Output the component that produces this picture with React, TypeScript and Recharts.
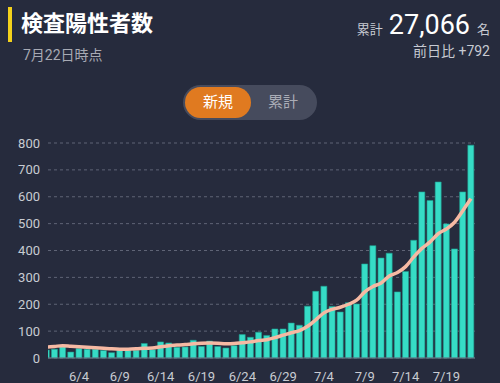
import React from 'react';
import {
  ComposedChart,
  Bar,
  Line,
  XAxis,
  YAxis,
  CartesianGrid
} from 'recharts';

const dates = [
  '5/31',
  '6/1', '6/2', '6/3', '6/4', '6/5', '6/6', '6/7', '6/8', '6/9', '6/10',
  '6/11', '6/12', '6/13', '6/14', '6/15', '6/16', '6/17', '6/18', '6/19', '6/20',
  '6/21', '6/22', '6/23', '6/24', '6/25', '6/26', '6/27', '6/28', '6/29', '6/30',
  '7/1', '7/2', '7/3', '7/4', '7/5', '7/6', '7/7', '7/8', '7/9', '7/10',
  '7/11', '7/12', '7/13', '7/14', '7/15', '7/16', '7/17', '7/18', '7/19', '7/20',
  '7/21', '7/22'
];

const newCases = [
  30,
  33, 42, 22, 35, 33, 33, 28, 20, 29, 28,
  29, 54, 31, 60, 56, 40, 41, 66, 43, 63,
  43, 37, 46, 87, 77, 96, 84, 108, 108, 130,
  122, 193, 248, 267, 192, 171, 206, 201, 350, 418,
  372, 390, 246, 322, 438, 618, 586, 655, 499, 406,
  618, 792
];

const weeklyAverage = [
  40,
  43, 46, 44, 42, 40, 38, 36, 34, 33, 33,
  34, 36, 37, 42, 46, 48, 50, 53, 55, 56,
  55, 53, 54, 57, 60, 65, 68, 76, 85, 94,
  102, 118, 142, 168, 181, 189, 200, 215, 246, 266,
  279, 305, 318, 340, 376, 408, 432, 463, 480, 505,
  548, 593
];

const tickDates = ['6/4', '6/9', '6/14', '6/19', '6/24', '6/29', '7/4', '7/9', '7/14', '7/19'];
const yTicks = [0, 100, 200, 300, 400, 500, 600, 700, 800];

const data = dates.map((d, i) => ({ idx: i, date: d, count: newCases[i], avg: weeklyAverage[i] }));
const xTicks = tickDates.map((d) => dates.indexOf(d));

const BG = '#262b3d';
const FONT = "Roboto, 'Noto Sans CJK JP', sans-serif";

export default function App() {
  return (
    <div
      style={{
        position: 'fixed',
        left: 0,
        top: 0,
        width: 500,
        height: 383,
        background: BG,
        fontFamily: FONT,
        overflow: 'hidden'
      }}
    >
      <div style={{ position: 'absolute', left: 8, top: 7, width: 4, height: 35, background: '#f3d11c' }} />
      <div
        style={{
          position: 'absolute',
          left: 21,
          top: 13,
          fontSize: 22,
          lineHeight: '22px',
          fontWeight: 700,
          color: '#ffffff'
        }}
      >
        検査陽性者数
      </div>
      <div style={{ position: 'absolute', left: 23, top: 48, fontSize: 14, lineHeight: '14px', color: '#a7aab4' }}>
        7月22日時点
      </div>

      <div
        style={{
          position: 'absolute',
          right: 10,
          top: 12,
          display: 'flex',
          alignItems: 'baseline',
          color: '#ffffff'
        }}
      >
        <span style={{ fontSize: 13, color: '#c7cad2', marginRight: 6 }}>累計</span>
        <span style={{ fontSize: 27, lineHeight: '27px' }}>27,066</span>
        <span style={{ fontSize: 13, color: '#c7cad2', marginLeft: 7 }}>名</span>
      </div>
      <div
        style={{
          position: 'absolute',
          right: 10,
          top: 44,
          fontSize: 14,
          lineHeight: '14px',
          color: '#c7cad2'
        }}
      >
        前日比 +792
      </div>

      <div
        style={{
          position: 'absolute',
          left: 183,
          top: 85,
          width: 134,
          height: 35,
          borderRadius: 18,
          background: '#464b5d'
        }}
      >
        <div
          style={{
            position: 'absolute',
            left: 2,
            top: 2,
            width: 66,
            height: 31,
            borderRadius: 16,
            background: '#e07a20',
            color: '#ffffff',
            fontSize: 15,
            lineHeight: '31px',
            textAlign: 'center'
          }}
        >
          新規
        </div>
        <div
          style={{
            position: 'absolute',
            left: 68,
            top: 2,
            width: 64,
            height: 31,
            color: '#a9acb6',
            fontSize: 15,
            lineHeight: '31px',
            textAlign: 'center'
          }}
        >
          累計
        </div>
      </div>

      <div style={{ position: 'absolute', left: 0, top: 0 }}>
        <ComposedChart
          width={500}
          height={383}
          data={data}
          margin={{ top: 143, right: 25, bottom: 0, left: 8 }}
        >
          <CartesianGrid vertical={false} stroke="#5f6476" strokeDasharray="3 3" />
          <XAxis
            dataKey="idx"
            type="number"
            domain={[0.2, 52.5]}
            allowDataOverflow
            ticks={xTicks}
            tickFormatter={(v: number) => dates[v]}
            interval={0}
            height={25}
            tickLine={false}
            tickMargin={8}
            axisLine={{ stroke: '#6d7283' }}
            tick={{ fill: '#c8cbd2', fontSize: 13, fontFamily: FONT }}
          />
          <YAxis
            domain={[0, 800]}
            ticks={yTicks}
            width={40}
            axisLine={false}
            tickLine={false}
            tick={{ fill: '#c8cbd2', fontSize: 13, fontFamily: FONT }}
          />
          <Bar
            dataKey="count"
            barSize={6}
            fill="#36dcc6"
            stroke="#1e9e8e"
            strokeWidth={0.6}
            isAnimationActive={false}
          />
          <Line
            dataKey="avg"
            type="monotone"
            stroke="#f6b9a3"
            strokeWidth={3.5}
            dot={false}
            isAnimationActive={false}
          />
        </ComposedChart>
      </div>
    </div>
  );
}
